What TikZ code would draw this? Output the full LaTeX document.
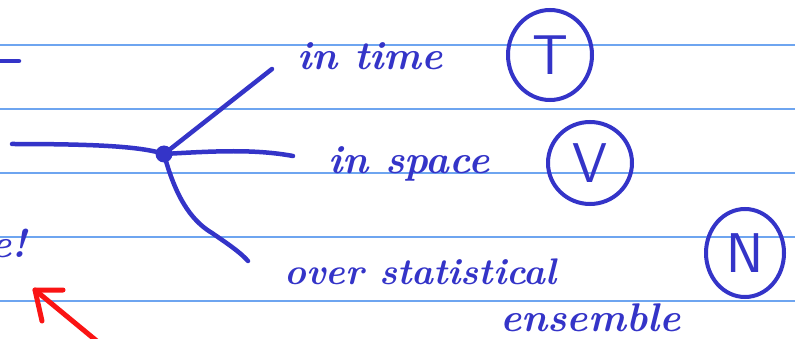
\documentclass[tikz,border=0pt]{standalone}
\usepackage{fontspec}
\usetikzlibrary{shapes.geometric}
\definecolor{inkblue}{RGB}{52,52,200}
\definecolor{rulecol}{RGB}{110,165,240}
\definecolor{inkred}{RGB}{250,20,20}
\begin{document}
\begin{tikzpicture}[x=1pt,y=-1pt,
  ink/.style={draw=inkblue, line width=4.5pt, line cap=round, line join=round},
  redink/.style={draw=inkred, line width=5pt, line cap=round, line join=round},
  rule/.style={draw=rulecol, line width=1.5pt},
  hw/.style={text=inkblue, font=\fontsize{40}{44}\selectfont\bfseries\itshape, inner sep=0pt, anchor=base west},
  circ/.style={ellipse, draw=inkblue, line width=4pt, text=inkblue, inner sep=0pt,
    font=\sffamily\fontsize{56}{58}\selectfont}]
\useasboundingbox (0,0) rectangle (795,339);
\fill[white] (0,0) rectangle (795,339);
\foreach \yy in {45,109,173,237,301} \draw[rule] (0,\yy) -- (795,\yy);
% left dash
\coordinate (d1) at (-5,61);
\coordinate (d2) at (19,61);
\draw[ink] (d1) -- (d2);
% hub and branches
\node[circle, fill=inkblue, minimum size=17pt, inner sep=0pt] (hub) at (164,154) {};
\coordinate (L) at (12,144);
\coordinate (Ta) at (272,69);
\coordinate (Sa) at (293,156);
\coordinate (Om) at (212,233);
\coordinate (Oa) at (248,261);
\draw[ink] (L) .. controls (90,144) and (140,146) .. (hub.center);
\draw[ink] (hub.center) -- (Ta);
\draw[ink] (hub.center) .. controls (215,151) and (255,149) .. (Sa);
\draw[ink] (hub.center) .. controls (175,195) and (190,220) .. (Om) .. controls (228,244) and (240,252) .. (Oa);
% texts
\node[hw] (tTime) at (297,70) {in time};
\node[hw] (tSpace) at (328,174) {in space};
\node[hw, font=\fontsize{37}{40}\selectfont\bfseries\itshape] (tOver) at (284,284) {over statistical};
\node[hw] (tEns) at (500,331) {ensemble};
\node[hw, anchor=base east] (tExcl) at (27,257) {e!};
% circled letters
\node[circ, minimum width=84pt, minimum height=90pt] (cT) at (550,55) {T};
\node[circ, minimum width=84pt, minimum height=82pt] (cV) at (590,163) {V};
\node[circ, minimum width=78pt, minimum height=88pt] (cN) at (745,253) {N};
% red arrow
\coordinate (Rt) at (35,290);
\coordinate (Rs) at (98,342);
\coordinate (Rh1) at (63,290);
\coordinate (Rh2) at (42,321);
\draw[redink] (Rs) -- (Rt);
\draw[redink] (Rh1) -- (Rt) -- (Rh2);
\end{tikzpicture}
\end{document}
